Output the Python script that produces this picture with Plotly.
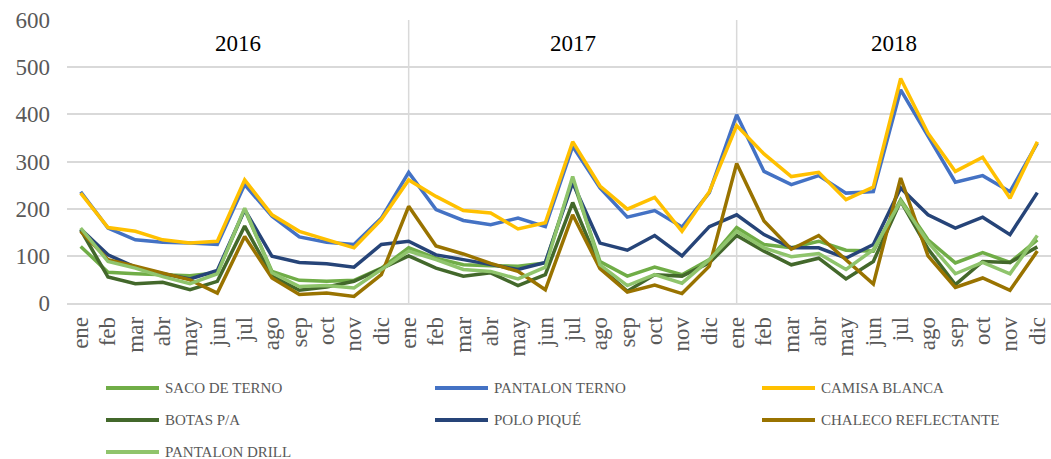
import plotly.graph_objects as go

# Monthly quantities per item, Jan 2016 - Dec 2018
years = ["2016", "2017", "2018"]
months = ["ene", "feb", "mar", "abr", "may", "jun", "jul", "ago", "sep", "oct", "nov", "dic"]

saco_de_terno = [120, 65, 62, 60, 58, 64, 198, 67, 48, 46, 48, 74,
                 117, 95, 81, 79, 78, 85, 261, 88, 57, 76, 60, 92,
                 160, 124, 117, 131, 112, 110, 219, 134, 85, 107, 86, 134]
pantalon_terno = [236, 159, 134, 129, 127, 124, 251, 184, 140, 129, 124, 180,
                  277, 198, 175, 166, 180, 162, 332, 244, 182, 196, 161, 234,
                  399, 279, 251, 270, 233, 236, 452, 353, 256, 270, 236, 339]
camisa_blanca = [233, 160, 152, 134, 127, 131, 261, 187, 152, 134, 117, 177,
                 261, 226, 196, 191, 157, 170, 342, 248, 199, 224, 152, 236,
                 376, 316, 268, 277, 219, 246, 476, 360, 279, 309, 222, 342]
botas_pa = [155, 55, 41, 44, 28, 46, 163, 57, 27, 34, 46, 72,
            100, 74, 57, 64, 37, 60, 213, 76, 25, 60, 57, 85,
            143, 110, 81, 95, 51, 88, 216, 115, 39, 88, 86, 119]
polo_pique = [157, 102, 76, 62, 51, 69, 198, 99, 86, 83, 76, 124,
              131, 102, 92, 81, 71, 86, 255, 127, 112, 143, 100, 162,
              187, 145, 117, 117, 95, 124, 244, 187, 159, 182, 145, 234]
chaleco_reflectante = [152, 92, 78, 64, 49, 21, 141, 53, 18, 21, 14, 60,
                       205, 121, 104, 84, 67, 28, 187, 73, 23, 38, 20, 78,
                       296, 174, 114, 143, 92, 40, 265, 100, 33, 53, 27, 110]
pantalon_drill = [159, 88, 74, 56, 41, 62, 201, 64, 35, 37, 32, 72,
                  110, 92, 71, 67, 51, 76, 268, 81, 37, 60, 42, 92,
                  152, 117, 98, 105, 71, 113, 216, 129, 62, 86, 62, 143]

series = [
    ("SACO DE TERNO", saco_de_terno, "#70AD47"),
    ("PANTALON TERNO", pantalon_terno, "#4472C4"),
    ("CAMISA BLANCA", camisa_blanca, "#FFC000"),
    ("BOTAS P/A", botas_pa, "#43682B"),
    ("POLO PIQUÉ", polo_pique, "#264478"),
    ("CHALECO REFLECTANTE", chaleco_reflectante, "#997300"),
    ("PANTALON DRILL", pantalon_drill, "#8FC46C"),
]

n = len(years) * len(months)
x = list(range(n))
labels = months * len(years)

W, H = 1051, 459
ML, MR, MT, MB = 67, 0, 20, 156
FONT = "'Liberation Serif', 'Times New Roman', serif"
GRID = "#D9D9D9"


def px_to_paper(px, py):
    return (px - ML) / (W - ML - MR), (H - MB - py) / (H - MT - MB)


fig = go.Figure()
for name, vals, color in series:
    fig.add_trace(go.Scatter(x=x, y=vals, name=name, mode="lines",
                             line=dict(color=color, width=3.5),
                             showlegend=False))

# year dividers and year titles
shapes = []
annotations = []
ymax = 600
for k, yr in enumerate(years):
    start = k * len(months)
    if k > 0:
        shapes.append(dict(type="line", xref="x", yref="y", x0=start, x1=start,
                           y0=0, y1=ymax, line=dict(color=GRID, width=1.5),
                           layer="below"))
    lo = -0.5 if k == 0 else start
    hi = n - 0.5 if k == len(years) - 1 else start + len(months)
    annotations.append(dict(x=(lo + hi) / 2, y=551, xref="x", yref="y", text=yr,
                            showarrow=False, font=dict(family=FONT, size=23, color="#000000")))

# legend laid out in three columns
col_x = [106, 435, 762]
row_y = [388, 420, 452]
line_len = 53
for idx, (name, vals, color) in enumerate(series):
    cx = col_x[idx % 3]
    ry = row_y[idx // 3]
    x0, y0 = px_to_paper(cx, ry)
    x1, _ = px_to_paper(cx + line_len, ry)
    shapes.append(dict(type="line", xref="paper", yref="paper", x0=x0, x1=x1,
                       y0=y0, y1=y0, line=dict(color=color, width=4)))
    tx, _ = px_to_paper(cx + line_len + 4, ry)
    annotations.append(dict(x=tx, y=y0, xref="paper", yref="paper", text=name,
                            xanchor="left", yanchor="middle", showarrow=False,
                            font=dict(family=FONT, size=15, color="#595959")))

fig.update_layout(
    width=W, height=H,
    margin=dict(l=ML, r=MR, t=MT, b=MB),
    paper_bgcolor="white", plot_bgcolor="white",
    font=dict(family=FONT),
    shapes=shapes, annotations=annotations,
    xaxis=dict(range=[-0.5, n - 0.5], tickmode="array", tickvals=x, ticktext=labels,
               tickangle=-90, showgrid=False, zeroline=False, showline=True,
               linecolor=GRID, linewidth=1.5, ticks="", ticklabelstandoff=3,
               tickfont=dict(family=FONT, size=23, color="#595959")),
    yaxis=dict(range=[0, ymax], dtick=100, showgrid=True, gridcolor=GRID, gridwidth=1.5,
               zeroline=False, showline=False, ticks="", ticklabelstandoff=16,
               tickfont=dict(family=FONT, size=23, color="#595959")),
)

fig.write_html("out.html")
